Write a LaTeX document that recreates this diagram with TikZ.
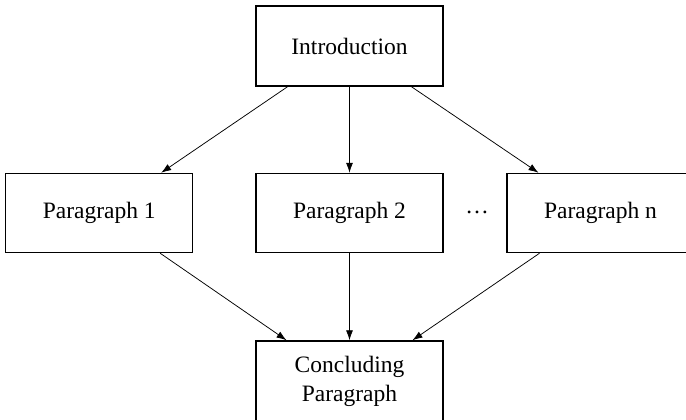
\documentclass[tikz,border=0pt]{standalone}
\usepackage{fontspec}
\setmainfont{Liberation Serif}
\usetikzlibrary{arrows.meta}
\begin{document}
\begin{tikzpicture}[x=1pt,y=-1pt,
  box/.style={draw,line width=1.5pt,minimum width=187pt,minimum height=80pt,inner sep=0pt,
    font=\fontsize{23.5}{29}\selectfont,align=center},
  conn/.style={line width=0.75pt,-{Latex[length=10pt,width=7pt]}}]
\useasboundingbox (0,0) rectangle (686,420);
\clip (0,0) rectangle (686,420);
\node[box] (intro) at (349.5,46) {Introduction};
\node[box,minimum height=79pt] (p1) at (99.2,213) {Paragraph 1};
\node[box,minimum height=79pt] (p2) at (349.5,213) {Paragraph 2};
\node[box,minimum height=79pt] (pn) at (600.5,213) {Paragraph n};
\node[font=\fontsize{23.5}{29}\selectfont,inner sep=0pt] (dots) at (477,212) {\dots};
\node[box,minimum height=80pt] (conc) at (349.5,381) {Concluding\\Paragraph};
\draw[conn] ([xshift=-62pt]intro.south) -- ([xshift=62pt]p1.north);
\draw[conn] (intro.south) -- (p2.north);
\draw[conn] ([xshift=62pt]intro.south) -- ([xshift=-62pt]pn.north);
\draw[conn] ([xshift=61pt]p1.south) -- ([xshift=-63pt]conc.north);
\draw[conn] (p2.south) -- (conc.north);
\draw[conn] ([xshift=-61pt]pn.south) -- ([xshift=63pt]conc.north);
\end{tikzpicture}
\end{document}
